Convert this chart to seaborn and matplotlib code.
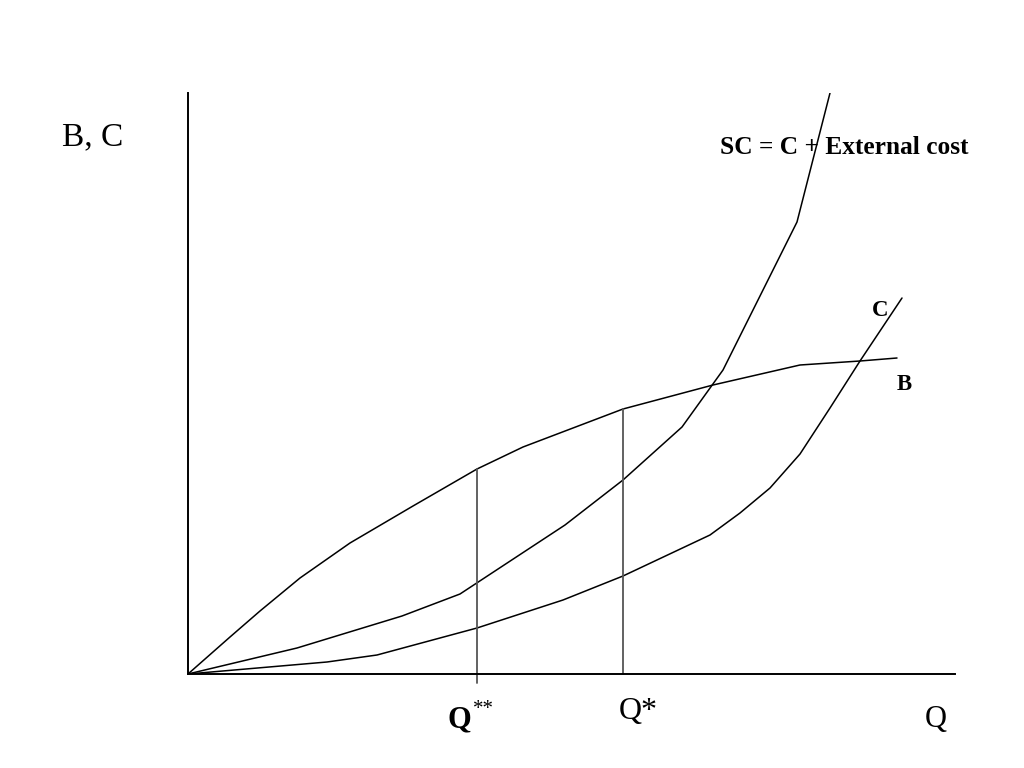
import matplotlib
matplotlib.use("Agg")
import matplotlib.pyplot as plt
import seaborn as sns
import pandas as pd

# courbes (unites arbitraires, origine au coin des axes)
B_q = [0, 42, 72, 112, 162, 225, 289, 335, 435, 525, 612, 672, 709]
B_v = [0, 37, 63, 96, 131, 168, 205, 227, 265, 289, 309, 313, 316]
SC_q = [0, 109, 214, 272, 377, 435, 494, 535, 609, 642]
SC_v = [0, 26, 58, 80, 149, 194, 247, 304, 452, 581]
C_q = [0, 139, 189, 289, 375, 435, 522, 552, 582, 612, 642, 672, 714]
C_v = [0, 12, 19, 46, 74, 98, 139, 161, 186, 220, 266, 313, 376]

Q_2star = 289      # Q**
Q_star = 435       # Q*
B_at_2star = 205
B_at_star = 265

sns.set_theme(style="white")
plt.rcParams["font.family"] = ["Liberation Serif", "DejaVu Serif"]
plt.rcParams["text.color"] = "black"

fig = plt.figure(figsize=(10.24, 7.68), dpi=100)
ax = fig.add_axes([188 / 1024, 94 / 768, 767 / 1024, 581 / 768])

for q, v in [(B_q, B_v), (SC_q, SC_v), (C_q, C_v)]:
    df = pd.DataFrame({"Q": q, "V": v})
    sns.lineplot(data=df, x="Q", y="V", ax=ax, sort=False, color="black",
                 lw=1.1, estimator=None)

ax.plot([Q_2star, Q_2star], [-9, B_at_2star], color="#555555", lw=1.3, clip_on=False)
ax.plot([Q_star, Q_star], [0, B_at_star], color="#555555", lw=1.3, clip_on=False)

ax.set_xlim(0, 767)
ax.set_ylim(0, 581)
ax.set_xticks([]); ax.set_yticks([])
ax.set_xlabel(""); ax.set_ylabel("")
for s in ["top", "right"]:
    ax.spines[s].set_visible(False)
for s in ["left", "bottom"]:
    ax.spines[s].set_color("black"); ax.spines[s].set_linewidth(1.4)

kw = dict(clip_on=False, va="center")
ax.text(-95, 537, "B, C", ha="center", fontsize=24, **kw)
ax.text(532, 527, "SC = C + External cost", ha="left", fontsize=18.3, fontweight="bold", **kw)
ax.text(692, 364, "C", ha="center", fontsize=16.5, fontweight="bold", **kw)
ax.text(716, 289, "B", ha="center", fontsize=16.5, fontweight="bold", **kw)
ax.text(271, -46, "Q", ha="center", fontsize=22, fontweight="bold", **kw)
ax.text(285, -36, "**", ha="left", fontsize=15, **kw)
ax.text(450, -37, "Q*", ha="center", fontsize=23, **kw)
ax.text(748, -46, "Q", ha="center", fontsize=22, **kw)

fig.savefig("out.png", dpi=100)
